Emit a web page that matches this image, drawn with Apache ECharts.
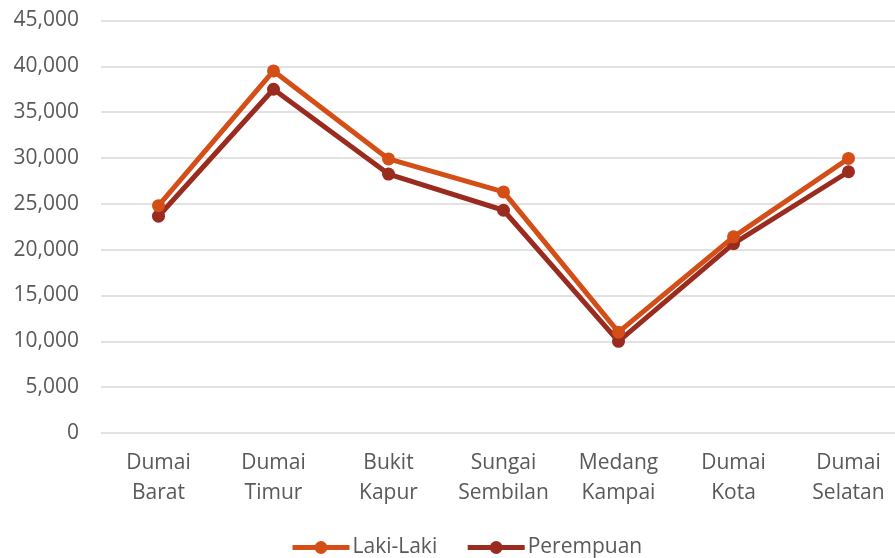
<!DOCTYPE html>
<html>
<head>
<meta charset="utf-8">
<script src="https://cdn.jsdelivr.net/npm/echarts@6/dist/echarts.min.js"></script>
<style>
  html, body { margin: 0; padding: 0; background: #fff; }
  #main { width: 895px; height: 558px; }
</style>
</head>
<body>
<div id="main"></div>
<script>
// data
var categories = ['Dumai\nBarat', 'Dumai\nTimur', 'Bukit\nKapur', 'Sungai\nSembilan', 'Medang\nKampai', 'Dumai\nKota', 'Dumai\nSelatan'];
var lakiLaki = [24800, 39500, 29900, 26300, 11000, 21400, 29950];
var perempuan = [23650, 37500, 28250, 24300, 10000, 20650, 28500];

var chart = echarts.init(document.getElementById('main'));
var labelFont = '"Open Sans", "Noto Sans", sans-serif';

var option = {
  animation: false,
  grid: {
    left: 101,
    width: 805, // plot runs past the right edge in the original
    top: 20.5,
    bottom: 125,
    outerBoundsMode: 'none'
  },
  legend: {
    top: 532,
    left: 285,
    itemWidth: 57,
    itemHeight: 16,
    itemGap: 28,
    lineStyle: { width: 5 },
    textStyle: { color: '#595959', fontSize: 21, fontFamily: labelFont, padding: [0, 0, 0, -2] },
    data: ['Laki-Laki', 'Perempuan']
  },
  xAxis: {
    type: 'category',
    data: categories,
    axisLine: { show: false },
    axisTick: { show: false },
    axisLabel: {
      interval: 0,
      color: '#595959',
      fontSize: 21,
      fontFamily: labelFont,
      lineHeight: 30,
      margin: 15
    }
  },
  yAxis: {
    type: 'value',
    min: 0,
    max: 45000,
    interval: 5000,
    axisLine: { show: false },
    axisTick: { show: false },
    splitLine: { lineStyle: { color: '#d9d9d9', width: 1.5 } },
    axisLabel: {
      color: '#595959',
      fontSize: 21,
      fontFamily: labelFont,
      margin: 22,
      formatter: function (v) { return v.toLocaleString('en-US'); }
    }
  },
  series: [
    {
      name: 'Laki-Laki',
      type: 'line',
      data: lakiLaki,
      symbol: 'circle',
      symbolSize: 13,
      lineStyle: { width: 5, color: '#d44e17' },
      itemStyle: { color: '#d44e17' },
      z: 3
    },
    {
      name: 'Perempuan',
      type: 'line',
      data: perempuan,
      symbol: 'circle',
      symbolSize: 13,
      lineStyle: { width: 5, color: '#9a2b1f' },
      itemStyle: { color: '#9a2b1f' },
      z: 2
    }
  ]
};
chart.setOption(option);
</script>
</body>
</html>
